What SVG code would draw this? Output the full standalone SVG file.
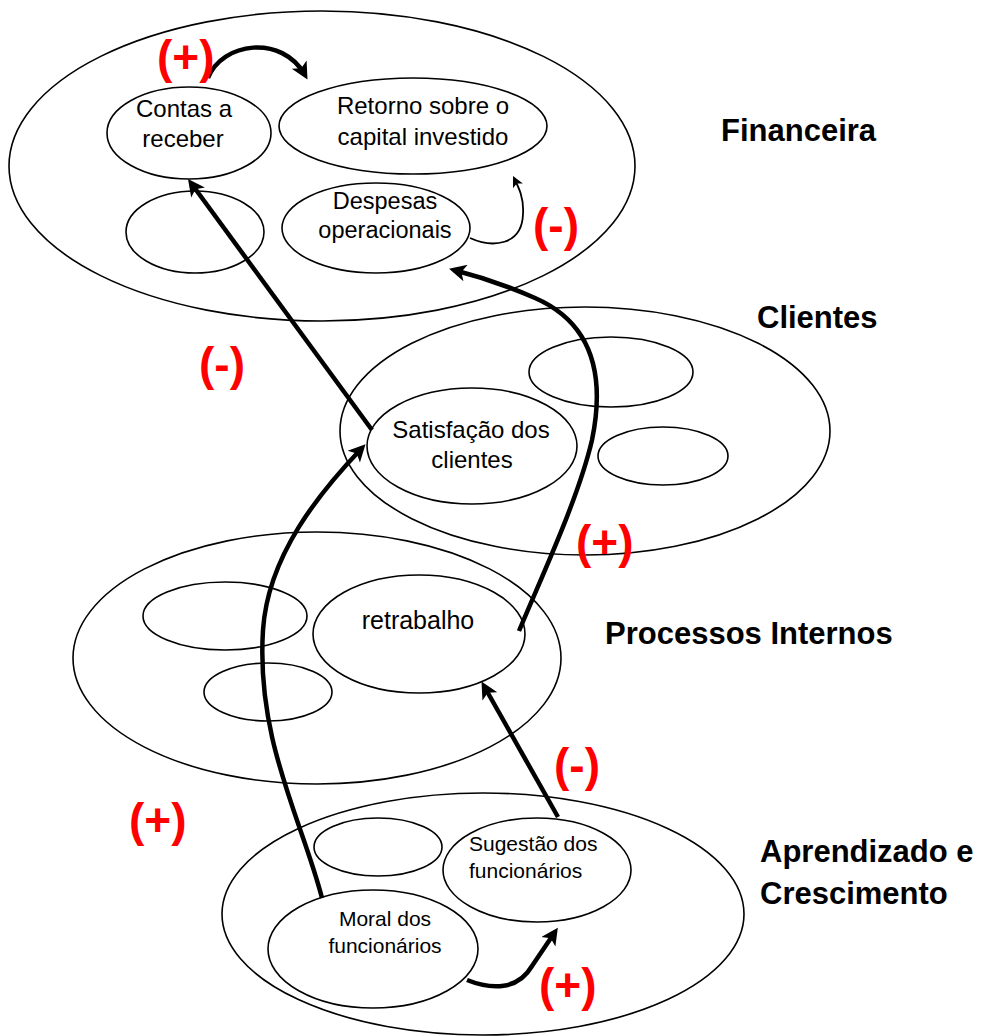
<svg xmlns="http://www.w3.org/2000/svg" width="982" height="1036" viewBox="0 0 982 1036">
<style>
.el{fill:none;stroke:#000;stroke-width:1.6}
.t{font-family:"Liberation Sans",Arial,sans-serif;font-size:24px;fill:#000;text-anchor:middle}
.s{font-size:21px}
.h{font-family:"Liberation Sans",Arial,sans-serif;font-size:31px;font-weight:bold;fill:#000}
.r{font-family:"Liberation Sans",Arial,sans-serif;font-size:46px;font-weight:bold;fill:#ff0000}
.k{fill:none;stroke:#000;stroke-width:4.5}
.n{fill:none;stroke:#000;stroke-width:1.8}
</style>
<defs>
<marker id="ah" viewBox="0 0 10 10" refX="7" refY="5" markerWidth="20" markerHeight="17" markerUnits="userSpaceOnUse" orient="auto">
<path d="M0,0 L10,5 L0,10 L2.5,5 z" fill="#000"/>
</marker>
<marker id="ahs" viewBox="0 0 10 10" refX="8" refY="5" markerWidth="13" markerHeight="11" markerUnits="userSpaceOnUse" orient="auto">
<path d="M0,0 L10,5 L0,10 L2.5,5 z" fill="#000"/>
</marker>
</defs>

<g id="financeira">
<ellipse class="el" cx="322" cy="166" rx="313" ry="155"/>
<text class="h" x="721" y="141">Financeira</text>
</g>
<g id="contas">
<ellipse class="el" cx="189" cy="133" rx="82" ry="46"/>
<text class="t" x="184" y="117">Contas a</text>
<text class="t" x="183" y="147">receber</text>
</g>
<g id="retorno">
<ellipse class="el" cx="413" cy="126" rx="134" ry="48"/>
<text class="t" x="423" y="114">Retorno sobre o</text>
<text class="t" x="423" y="145">capital investido</text>
</g>
<g id="fin-vazio">
<ellipse class="el" cx="195" cy="232" rx="69" ry="41"/>
</g>
<g id="despesas">
<ellipse class="el" cx="376" cy="228" rx="94" ry="45"/>
<text class="t" x="385" y="209" style="font-size:23.5px">Despesas</text>
<text class="t" x="385" y="238" style="font-size:23.5px">operacionais</text>
</g>

<g id="clientes">
<ellipse class="el" cx="585" cy="431" rx="245" ry="124"/>
<text class="h" x="757" y="328">Clientes</text>
</g>
<g id="cli-vazio1">
<ellipse class="el" cx="611" cy="372" rx="82" ry="35"/>
</g>
<g id="cli-vazio2">
<ellipse class="el" cx="663" cy="456" rx="65" ry="29"/>
</g>
<g id="satisfacao">
<ellipse class="el" cx="472" cy="446" rx="105" ry="58"/>
<text class="t" x="471" y="438">Satisfação dos</text>
<text class="t" x="472" y="468">clientes</text>
</g>

<g id="processos">
<ellipse class="el" cx="317" cy="658" rx="244" ry="126"/>
<text class="h" x="605" y="644">Processos Internos</text>
</g>
<g id="proc-vazio1">
<ellipse class="el" cx="225" cy="616" rx="82" ry="34"/>
</g>
<g id="proc-vazio2">
<ellipse class="el" cx="268" cy="692" rx="64" ry="29"/>
</g>
<g id="retrabalho">
<ellipse class="el" cx="419" cy="634" rx="106" ry="59"/>
<text class="t" x="418" y="629" style="font-size:25px">retrabalho</text>
</g>

<g id="aprendizado">
<ellipse class="el" cx="483" cy="914" rx="261" ry="121"/>
<text class="h" x="760" y="862">Aprendizado e</text>
<text class="h" x="760" y="904">Crescimento</text>
</g>
<g id="apr-vazio">
<ellipse class="el" cx="378" cy="847" rx="64" ry="29"/>
</g>
<g id="sugestao">
<ellipse class="el" cx="537" cy="870" rx="94" ry="52"/>
<text class="t s" x="469" y="851" style="text-anchor:start">Sugestão dos</text>
<text class="t s" x="469" y="878" style="text-anchor:start">funcionários</text>
</g>
<g id="moral">
<ellipse class="el" cx="373" cy="949" rx="105" ry="59"/>
<text class="t s" x="385" y="926">Moral dos</text>
<text class="t s" x="385" y="953">funcionários</text>
</g>

<g id="connectors">
<path class="k" d="M208,78 C222,42 282,34 305,75" marker-end="url(#ah)"/>
<path class="n" d="M470,238 C492,248 522,246 523,214 C524,198 519,188 514,178" marker-end="url(#ahs)"/>
<path class="k" d="M372,430 L191,183" marker-end="url(#ah)"/>
<path class="k" d="M519,631 C540,580 578,500 592,440 C606,372 590,322 535,298 C510,287 485,278 454,270" marker-end="url(#ah)"/>
<path class="k" d="M322,898 C302,820 256,740 263,630 C268,555 320,492 362,448" marker-end="url(#ah)"/>
<path class="k" d="M558,817 L484,686" marker-end="url(#ah)"/>
<path class="k" d="M467,980 C492,990 518,990 532,966 L555,932" marker-end="url(#ah)"/>
</g>

<g id="labels">
<text class="r" x="157" y="73">(+)</text>
<text class="r" x="533" y="241">(-)</text>
<text class="r" x="199" y="380">(-)</text>
<text class="r" x="576" y="558">(+)</text>
<text class="r" x="554" y="781">(-)</text>
<text class="r" x="129" y="836">(+)</text>
<text class="r" x="539" y="1001">(+)</text>
</g>
</svg>
